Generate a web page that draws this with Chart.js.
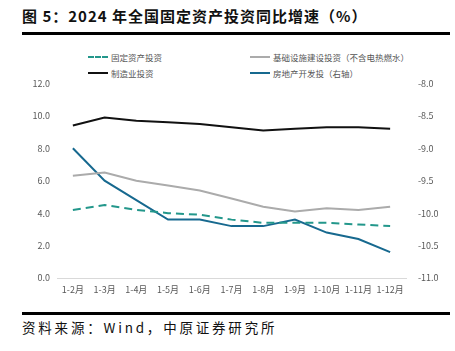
<!DOCTYPE html>
<html lang="zh">
<head>
  <meta charset="UTF-8">
  <title>2024年全国固定资产投资同比增速</title>
  <script src="https://cdn.jsdelivr.net/npm/chart.js"></script>
  <style>
    body { margin: 0; width: 455px; height: 351px; background: #fff; position: relative; overflow: hidden;
           font-family: "Noto Sans CJK SC", sans-serif; }
    .title { position: absolute; left: 22px; top: 5px; font-size: 15px; font-weight: bold; color: #111; letter-spacing: 1px; }
    .rule { position: absolute; left: 22px; width: 428px; height: 3px; background: #000; }
    .source { position: absolute; left: 22px; top: 317px; font-size: 13.5px; color: #111; letter-spacing: 2.8px; }
    .legend { position: absolute; font-size: 8.5px; color: #555; display: flex; align-items: center; white-space: nowrap; }
    .legend span.sym { display: inline-block; width: 20px; height: 0; margin-right: 3px; }
    #box { position: absolute; left: 0; top: 66px; width: 455px; height: 234px; }
  </style>
</head>
<body>
<div class="title">图 5：2024 年全国固定资产投资同比增速（%）</div>
<div class="rule" style="top:32px"></div>
<div id="legend"></div>
<div id="box"><canvas id="chart"></canvas></div>
<div class="rule" style="top:312px"></div>
<div class="source">资料来源：Wind，中原证券研究所</div>
<script>
  const months = ['1-2月', '1-3月', '1-4月', '1-5月', '1-6月', '1-7月', '1-8月', '1-9月', '1-10月', '1-11月', '1-12月'];
  const fixedAsset = [4.2, 4.5, 4.2, 4.0, 3.9, 3.6, 3.4, 3.4, 3.4, 3.3, 3.2];
  const infra = [6.3, 6.5, 6.0, 5.7, 5.4, 4.9, 4.4, 4.1, 4.3, 4.2, 4.4];
  const manufacturing = [9.4, 9.9, 9.7, 9.6, 9.5, 9.3, 9.1, 9.2, 9.3, 9.3, 9.2];
  const realEstate = [-9.0, -9.5, -9.8, -10.1, -10.1, -10.2, -10.2, -10.1, -10.3, -10.4, -10.6];

  const COLORS = { fixed: '#23978b', infra: '#ababab', manu: '#111111', estate: '#17698f' };

  // legend (two columns, like the original)
  const legendItems = [
    { text: '固定资产投资', color: COLORS.fixed, dash: true, x: 88, y: 51 },
    { text: '基础设施建设投资（不含电热燃水）', color: COLORS.infra, dash: false, x: 250, y: 51 },
    { text: '制造业投资', color: COLORS.manu, dash: false, x: 88, y: 67 },
    { text: '房地产开发投（右轴）', color: COLORS.estate, dash: false, x: 250, y: 67 }
  ];
  const legendEl = document.getElementById('legend');
  legendItems.forEach(item => {
    const div = document.createElement('div');
    div.className = 'legend';
    div.style.left = item.x + 'px';
    div.style.top = item.y + 'px';
    div.innerHTML = `<span class="sym" style="border-top:2px ${item.dash ? 'dashed' : 'solid'} ${item.color}"></span>${item.text}`;
    legendEl.appendChild(div);
  });

  const tickFont = { family: '"Noto Sans CJK SC", sans-serif', size: 9 };

  new Chart(document.getElementById('chart'), {
    type: 'line',
    data: {
      labels: months,
      datasets: [
        { label: '固定资产投资', data: fixedAsset, borderColor: COLORS.fixed, borderDash: [8, 5], yAxisID: 'y' },
        { label: '基础设施建设投资（不含电热燃水）', data: infra, borderColor: COLORS.infra, yAxisID: 'y' },
        { label: '制造业投资', data: manufacturing, borderColor: COLORS.manu, yAxisID: 'y' },
        { label: '房地产开发投（右轴）', data: realEstate, borderColor: COLORS.estate, yAxisID: 'y1' }
      ]
    },
    options: {
      responsive: true,
      maintainAspectRatio: false,
      animation: false,
      layout: { padding: { top: 6, left: 0, right: 0, bottom: 0 } },
      elements: {
        line: { borderWidth: 2, tension: 0, fill: false },
        point: { radius: 0, hoverRadius: 0 }
      },
      plugins: { legend: { display: false }, tooltip: { enabled: false } },
      scales: {
        x: {
          offset: true,
          grid: { display: false, drawTicks: false },
          border: { display: true, color: '#d9d9d9', width: 1 },
          ticks: { color: '#595959', font: tickFont, padding: 6, maxRotation: 0, autoSkip: false },
          afterFit: s => { s.height = 22; }
        },
        y: {
          position: 'left',
          min: 0, max: 12,
          grid: { display: false, drawTicks: false },
          border: { display: false },
          ticks: { stepSize: 2, color: '#595959', font: tickFont, padding: 7, callback: v => v.toFixed(1) },
          afterFit: s => { s.width = 57; }
        },
        y1: {
          position: 'right',
          min: -11, max: -8,
          grid: { display: false, drawTicks: false },
          border: { display: false },
          ticks: { stepSize: 0.5, color: '#595959', font: tickFont, padding: 12, callback: v => v.toFixed(1) },
          afterFit: s => { s.width = 49; }
        }
      }
    }
  });
</script>
</body>
</html>
